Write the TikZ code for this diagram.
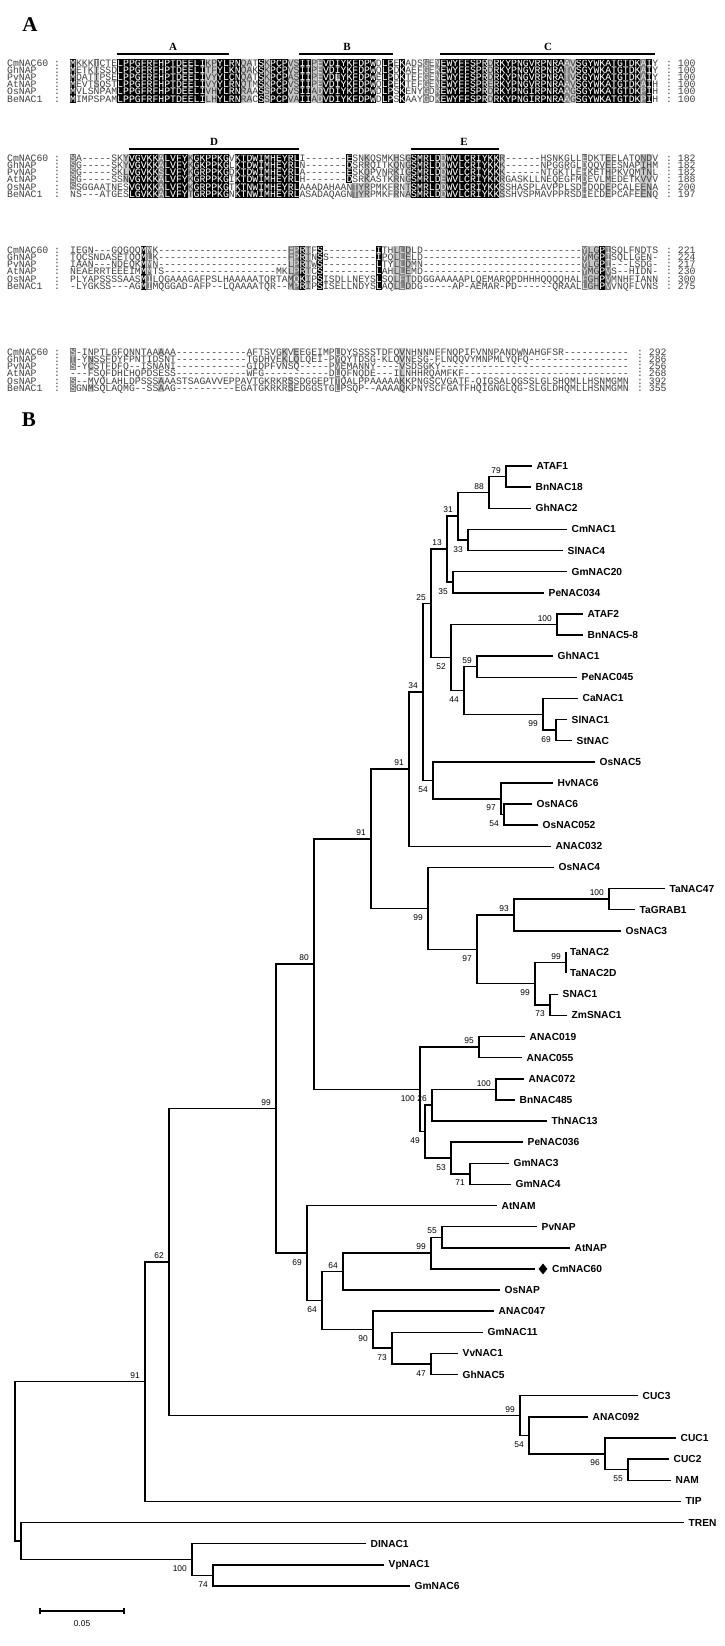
\documentclass[tikz,border=0pt]{standalone}
\usepackage{fontspec}
\setmonofont{Liberation Mono}
\newfontfamily\arialf{Liberation Sans}
\newfontfamily\timesf{Liberation Serif}
\usetikzlibrary{calc,shapes.geometric}

\tikzset{
  seqtxt/.style={anchor=base west, inner sep=0pt, font=\ttfamily\fontsize{9.8}{9.8}\selectfont, text=black!75},
  lgt/.style={fill=black!22},
  hdr/.style={font=\timesf\bfseries\fontsize{11}{11}\selectfont, inner sep=0pt},
  hdrbar/.style={line width=1.4pt},
  panel/.style={font=\timesf\bfseries\fontsize{21}{21}\selectfont, inner sep=0pt},
  branch/.style={line width=1.5pt},
  leaflab/.style={anchor=west, inner sep=0pt, font=\arialf\bfseries\fontsize{10.2}{12}\selectfont},
  bsa/.style={anchor=south east, inner sep=0pt, xshift=-5pt, yshift=3pt, font=\arialf\fontsize{8.4}{8.4}\selectfont},
  bsb/.style={anchor=north east, inner sep=0pt, xshift=-5pt, yshift=-6pt, font=\arialf\fontsize{8.4}{8.4}\selectfont}
}

% one block of the alignment: y of first row, rows, dark cells, light cells, x of the end numbers
\newcommand{\seqblock}[5]{%
  \foreach \ra/\rb/\ca/\cb in {#4}
    \fill[lgt] ({70+(\ca-1)*5.88},{#1+\ra*7.2-3.6}) rectangle ({70+\cb*5.88},{#1+\rb*7.2+3.6});
  \foreach \ra/\rb/\ca/\cb/\s in {#3}
    \fill[fill=\s] ({70+(\ca-1)*5.88},{#1+\ra*7.2-3.6}) rectangle ({70+\cb*5.88},{#1+\rb*7.2+3.6});
  \foreach \nm/\sq/\num [count=\r from 0] in {#2} {
    \node[seqtxt] (nm-#1-\r) at (7,{#1+\r*7.2+3.2}) {\nm};
    \node[seqtxt] (cl-#1-\r) at (54,{#1+\r*7.2+3.2}) {:};
    \node[seqtxt] (sq-#1-\r) at (70,{#1+\r*7.2+3.2}) {\sq};
    \node[seqtxt] (no-#1-\r) at (#5,{#1+\r*7.2+3.2}) {: \num};
  }
  \begin{scope}
    \clip \foreach \ra/\rb/\ca/\cb/\s in {#3} {({70+(\ca-1)*5.88},{#1+\ra*7.2-3.6}) rectangle ({70+\cb*5.88},{#1+\rb*7.2+3.6})};
    \foreach \nm/\sq/\num [count=\r from 0] in {#2}
      \node[seqtxt, text=white] (sw-#1-\r) at (70,{#1+\r*7.2+3.2}) {\sq};
  \end{scope}
}

% inner node of the tree: name, x, upper child, lower child, bootstrap, a/b
\newcommand{\inode}[6]{%
  \path let \p1=(#3), \p2=(#4) in coordinate (#1) at (#2pt,{(\y1+\y2)/2});
  \draw[branch] (#3) -| (#1) |- (#4);
  \node[bs#6] (#1-bs) at (#1) {#5};
}

\begin{document}
\begin{tikzpicture}[x=1pt,y=-1pt]
\useasboundingbox (0,0) rectangle (725,1646);
\fill[white] (0,0) rectangle (725,1646);

% ---------- A: alignment ----------
\node[panel] (labA) at (30,25) {A};

\draw[hdrbar] (117,54) -- (229,54);
\draw[hdrbar] (299,54) -- (393,54);
\draw[hdrbar] (440,54) -- (655,54);
\node[hdr] (dA) at (173,47) {A};
\node[hdr] (dB) at (347,47) {B};
\node[hdr] (dC) at (548,47) {C};

\seqblock{63}{%
 CmNAC60/MKKKTCTELPPGFRFHPTDEELIKPYLRNQATSKPCPVSIIPEVDIYKFDPWDLPEKADSGENEWYFFSPRDRKYPNGVRPNRAAVSGYWKATGTDKAIY/100,
 GhNAP/METKTSSDLPPGFRFHPTDEELITFYLKNQAKSKPCPVSIIPEVDIYKFDPWQLPDKAEFGEKEWYFFSPRDRKYPNGVRPNRATVSGYWKATGTDKAIY/100,
 PvNAP/MDATTPSELPPGFRFHPTDEELIVYYLCNQATSKPCPASIIPEVDLYKFDPWELPDKTEFGENEWYFFSPRDRKYPNGVRPNRATVSGYWKATGTDKAIY/100,
 AtNAP/MEVTSQSTLPPGFRFHPTDEELIVYYLRNQTMSKPCPVSIIPEVDIYKFDPWQLPEKTEFGENEWYFFSPRERKYPNGVRPNRAAVSGYWKATGTDKAIH/100,
 OsNAP/MVLSNPAMLPPGFRFHPTDEELIVHYLRNRAASSPCPVSIIADVDIYKFDPWDLPSKENYGDREWYFFSPRDRKYPNGIRPNRAAGSGYWKATGTDKPIH/100,
 BeNAC1/MIMPSPAMLPPGFRFHPTDEELILHYLRNRACSSPCPVAIIADVDIYKFDPWDLPSKAAYGDKEWYFFSPRDRKYPNGIRPNRAAGSGYWKATGTDKPIH/100}%
{0/5/1/1/black, 0/5/9/23/black, 0/5/26/29/black, 0/5/33/33/black, 0/5/35/37/black, 0/5/40/41/black,
 0/5/44/45/black, 0/1/46/46/black, 3/5/46/46/black, 2/2/46/46/black!50, 0/5/47/52/black, 0/5/54/55/black,
 0/5/57/57/black, 0/5/64/71/black, 0/5/73/84/black, 0/5/87/97/black, 0/5/99/99/black, 0/5/43/43/black!50,
 0/5/61/61/black!50, 0/5/63/63/black!50, 0/5/85/85/black!50, 0/5/98/98/black!50, 0/0/5/5/black!50}%
{0/5/24/25, 0/5/30/31, 0/5/34/34, 0/5/38/39, 0/5/42/42, 0/5/72/72, 0/5/86/86, 1/3/5/5}{666}

\draw[hdrbar] (129,149) -- (299,149);
\draw[hdrbar] (411,149) -- (499,149);
\node[hdr] (dD) at (214,142) {D};
\node[hdr] (dE) at (464,142) {E};

\seqblock{158}{%
 CmNAC60/SA-----SKYVGVKKALVFYKGKPPKGVKTDWIMHEYRLI-------ESNKQSMKHSGSMRLDDWVLCRIYKKR------HSNKGLLEDKTEELATQNDV/182,
 GhNAP/SG-----SKYVGVKKALVFYKGKPPKGLKTDWIMHEYRLN-------DSRRQITKQNGSMRLDDWVLCRIYKKK------NPGGRGLDQQVEESNAPIHM/182,
 PvNAP/SG-----SKLVGVKKSLVFYKGRPPKGDKTDWIMHEYRLA-------ESKQPVNRKIGSMRLDDWVLCRIYKKK------NTGKTLEHKETHPKVQMTNL/182,
 AtNAP/SG-----SSNVGVKKALVFYKGRPPKGIKTDWIMHEYRLH-------DSRKASTKRNGSMRLDEWVLCRIYKKRGASKLLNEQEGFMDEVLMEDETKVVV/188,
 OsNAP/SSGGAATNESVGVKKALVFYKGRPPKGTKTNWIMHEYRLAAADAHAANTYRPMKFRNTSMRLDDWVLCRIYKKSSHASPLAVPPLSDHDQDEPCALEENA/200,
 BeNAC1/NS---ATGESLGVKKALVFYTGRPPKGNKTNWIMHEYRLASADAQAGNTYRPMKFRNASMRLDDWVLCRIYKKSSHVSPMAVPPRSDHELDEPCAFEENQ/197}%
{0/5/11/15/black, 0/5/17/20/black, 0/5/22/27/black, 0/5/29/39/black, 0/3/48/48/black, 0/5/59/63/black,
 0/5/65/73/black, 0/4/1/1/black!50, 0/5/16/16/black!50, 0/5/64/64/black!50, 4/5/49/49/black!50, 0/5/88/88/black!50}%
{0/3/10/10, 0/5/21/21, 0/5/51/51, 0/5/56/56, 0/5/58/58, 0/5/74/74, 0/5/92/92, 0/5/98/99, 4/5/50/50}{666}

\seqblock{250}{%
 CmNAC60/IEGN---GQGQQMMK----------------------FPRTFS---------ITHLLDLD---------------------------YLGPISQLFNDTS/221,
 GhNAP/TQCSNDASETQQMLK----------------------FPRTNSS--------IPQLLELD---------------------------YMGPISQLLGEN-/224,
 PvNAP/IAAN---NDEQKMMN----------------------LPRTWS---------LTYLLDMN---------------------------YLGPI---LSDG-/217,
 AtNAP/NEAERRTEEEIMMMTS-------------------MKLPRTCS---------LAHLLEMD---------------------------YMGPVS--HIDN-/230,
 OsNAP/PLYAPSSSSAASMILQGAAAGAFPSLHAAAAATQRTAMQKIPSISDLLNEYSLSQLFTDDGGAAAAAPLQEMARQPDHHHQQQQHALFGHPVMNHFIANN/300,
 BeNAC1/-LYGKSS---AGMIMQGGAD-AFP--LQAAAATQR--MPRIPSISELLNDYSLAQLLDDG-----AP-AEMAR-PD------QRAALLGHPVVNQFLVNS/275}%
{0/5/13/13/black, 0/5/40/40/black, 0/5/43/43/black, 0/5/53/53/black, 0/5/91/91/black, 0/5/14/14/black!50,
 0/5/39/39/black!50, 0/5/57/57/black!50, 0/5/88/88/black!50, 0/5/92/92/black!50}%
{0/5/38/38, 0/5/41/41, 0/5/56/56, 0/5/58/58, 0/5/89/90}{666}

\seqblock{352}{%
 CmNAC60/S-INPTLGFQNNTAAAAA------------AFTSVGKVEEGEIMPLDYSSSSTDFQVNHNNNFFNQPIFVNNPANDWNAHGFSR-----------/292,
 GhNAP/T-YNSSFDYFPNTIDSNT------------TGDHVEKLQLQEI-PYQYTDSG-KLQVNESG-FLNQQVYMNPMLYQFQ-----------------/286,
 PvNAP/S-YCSTFDFQ--ISNANI------------GIDPFVNSQ-----PVEMANNY----VSDSGKY--------------------------------/256,
 AtNAP/---FSQFDHLHQPDSESS------------WFG-----------DLQFNQDE---ILNHHRQAMFKF----------------------------/268,
 OsNAP/S--MVQLAHLDPSSSAAASTSAGAVVEPPAVTGKRKRSSDGGEPTTQALPPAAAAAKKPNGSCVGATF-QIGSALQGSSLGLSHQMLLHSNMGMN/392,
 BeNAC1/SGNMSQLAQMG--SSAAG----------EGATGKRKRSEDGGSTGLPSQP--AAAAQKPNYSCFGATFHQIGNGLQG-SLGLDHQMLLHSNMGMN/355}%
{0/2/1/1/black!50, 4/5/1/1/black!50, 0/5/46/46/black!50}%
{1/2/4/4, 5/5/4/4, 0/0/16/16, 4/5/16/16, 0/1/37/37, 0/1/39/39, 4/5/38/38, 0/5/57/57}{637}

% ---------- B: tree ----------
\node[panel] (labB) at (29,420) {B};

\foreach \nm/\lx/\sh [count=\i from 0] in {
  ATAF1/532/4.5, BnNAC18/531/4.5, GhNAC2/531/4.5, CmNAC1/567/4.5, SlNAC4/563/4.5, GmNAC20/567/4.5,
  PeNAC034/544/4.5, ATAF2/583/4.5, BnNAC5-8/583/4.5, GhNAC1/553/4.5, PeNAC045/577/4.5, CaNAC1/578/4.5,
  SlNAC1/567/4.5, StNAC/572/4.5, OsNAC5/595/4.5, HvNAC6/553/4.5, OsNAC6/532/4.5, OsNAC052/538/4.5,
  ANAC032/551/4.5, OsNAC4/554/4.5, TaNAC47/665/4.5, TaGRAB1/635/4.5, OsNAC3/621/4.5, TaNAC2/566/4,
  TaNAC2D/566/4, SNAC1/558/4.5, ZmSNAC1/567/4.5, ANAC019/525/4.5, ANAC055/522/4.5, ANAC072/524/4.5,
  BnNAC485/515/4.5, ThNAC13/547/4.5, PeNAC036/523/4.5, GmNAC3/509/4.5, GmNAC4/511/4.5, AtNAM/497/4.5,
  PvNAP/537/4.5, AtNAP/570/4.5, CmNAC60/535/17, OsNAP/500/4.5, ANAC047/494/4.5, GmNAC11/483/4.5,
  VvNAC1/458/4.5, GhNAC5/458/4.5, CUC3/638/4.5, ANAC092/588/4.5, CUC1/676/4.5, CUC2/669/4.5,
  NAM/671/4.5, TIP/681/4.5, TREN/684/4.5, DINAC1/366/4.5, VpNAC1/384/4.5, GmNAC6/410/4.5} {
  \coordinate (\nm) at (\lx,{466+21.13*\i});
  \node[leaflab, xshift=\sh pt] (\nm-t) at (\nm) {\nm};
}
\node[diamond, fill=black, inner sep=0pt, minimum width=9pt, minimum height=11pt] (mark60) at ([xshift=8pt]CmNAC60) {};

\inode{n79}{506}{ATAF1}{BnNAC18}{79}{a}
\inode{n88}{489}{n79}{GhNAC2}{88}{a}
\inode{n33}{468}{CmNAC1}{SlNAC4}{33}{b}
\inode{n31}{458}{n88}{n33}{31}{a}
\inode{n35}{453}{GmNAC20}{PeNAC034}{35}{b}
\inode{n13}{447}{n31}{n35}{13}{a}
\inode{n100a}{557}{ATAF2}{BnNAC5-8}{100}{a}
\inode{n59}{477}{GhNAC1}{PeNAC045}{59}{a}
\inode{n69a}{556}{SlNAC1}{StNAC}{69}{b}
\inode{n99a}{543}{CaNAC1}{n69a}{99}{b}
\inode{n44}{464}{n59}{n99a}{44}{b}
\inode{n52}{451}{n100a}{n44}{52}{b}
\inode{n25}{431}{n13}{n52}{25}{a}
\inode{n54b}{504}{OsNAC6}{OsNAC052}{54}{b}
\inode{n97}{501}{HvNAC6}{n54b}{97}{b}
\inode{n54a}{433}{OsNAC5}{n97}{54}{b}
\inode{n34}{423}{n25}{n54a}{34}{a}
\inode{n91a}{409}{n34}{ANAC032}{91}{a}
\inode{n100b}{609}{TaNAC47}{TaGRAB1}{100}{a}
\inode{n93}{514}{n100b}{OsNAC3}{93}{a}
\inode{n99e}{566}{TaNAC2}{TaNAC2D}{99}{a}
\inode{n73a}{550}{SNAC1}{ZmSNAC1}{73}{b}
\inode{n99d}{535}{n99e}{n73a}{99}{b}
\inode{n97c}{477}{n93}{n99d}{97}{b}
\inode{n99c}{428}{OsNAC4}{n97c}{99}{b}
\inode{n91b}{371}{n91a}{n99c}{91}{a}
\inode{n95}{479}{ANAC019}{ANAC055}{95}{a}
\inode{n100d}{496}{ANAC072}{BnNAC485}{100}{a}
\inode{n26}{432}{n100d}{ThNAC13}{26}{a}
\inode{n71}{470}{GmNAC3}{GmNAC4}{71}{b}
\inode{n53}{451}{PeNAC036}{n71}{53}{b}
\inode{n49}{425}{n26}{n53}{49}{b}
\inode{n100c}{420}{n95}{n49}{100}{b}
\inode{n80}{314}{n91b}{n100c}{80}{a}
\inode{n55}{442}{PvNAP}{AtNAP}{55}{a}
\inode{n99b}{431}{n55}{CmNAC60}{99}{a}
\inode{n64a}{343}{n99b}{OsNAP}{64}{a}
\inode{n47}{431}{VvNAC1}{GhNAC5}{47}{b}
\inode{n73b}{392}{GmNAC11}{n47}{73}{b}
\inode{n90}{373}{ANAC047}{n73b}{90}{b}
\inode{n64b}{322}{n64a}{n90}{64}{b}
\inode{n69}{307}{AtNAM}{n64b}{69}{b}
\inode{n99aa}{276}{n80}{n69}{99}{a}
\inode{n55b}{628}{CUC2}{NAM}{55}{b}
\inode{n96}{605}{CUC1}{n55b}{96}{b}
\inode{n54c}{529}{ANAC092}{n96}{54}{b}
\inode{n99f}{520}{CUC3}{n54c}{99}{a}
\inode{n62}{169}{n99aa}{n99f}{62}{a}
\inode{n91c}{145}{n62}{TIP}{91}{a}
\inode{n74}{213}{VpNAC1}{GmNAC6}{74}{b}
\inode{n100e}{192}{DINAC1}{n74}{100}{b}

% root and the TREN branch
\path let \p1=(TREN), \p2=(n100e) in coordinate (nT) at (21pt,{(\y1+\y2)/2});
\draw[branch] (TREN) -| (nT) |- (n100e);
\path let \p1=(n91c), \p2=(nT) in coordinate (root) at (15pt,{(\y1+\y2)/2});
\draw[branch] (n91c) -| (root) |- (nT);

% scale bar
\coordinate (sb1) at (40,1611);
\coordinate (sb2) at (124,1611);
\draw[line width=1.2pt] (sb1) -- (sb2);
\draw[line width=1.2pt] ([yshift=3pt]sb1) -- ([yshift=-3pt]sb1);
\draw[line width=1.2pt] ([yshift=3pt]sb2) -- ([yshift=-3pt]sb2);
\node[font=\arialf\fontsize{8.4}{8.4}\selectfont, inner sep=0pt] (sblab) at ($(sb1)!0.5!(sb2)+(0,13)$) {0.05};
\end{tikzpicture}
\end{document}
